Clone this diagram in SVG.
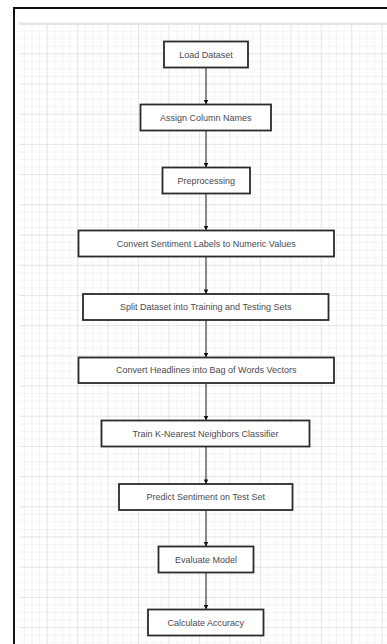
<svg xmlns="http://www.w3.org/2000/svg" width="387" height="644" viewBox="0 0 387 644">
  <style>
    .box { fill: #ffffff; stroke: #2b2b2b; stroke-width: 1.8; }
    .lbl { font-family: "Liberation Sans", Arial, sans-serif; font-size: 9px; fill: #4a4a52; text-anchor: middle; }
    .edge { stroke: #5a5a5a; stroke-width: 1.4; fill: none; marker-end: url(#arrow); }
  </style>
  <defs>
    <marker id="arrow" viewBox="0 0 10 10" refX="10" refY="5" markerUnits="userSpaceOnUse" markerWidth="5.5" markerHeight="4.5" orient="auto">
      <path d="M0,0 L10,5 L0,10 Z" fill="#111111"/>
    </marker>
    <pattern id="minor" patternUnits="userSpaceOnUse" x="17.25" y="24.1" width="7.6125" height="7.55">
      <path d="M7.6125,0 V7.55 M0,7.55 H7.6125" stroke="#f1f1f1" stroke-width="1.5" fill="none"/>
    </pattern>
    <pattern id="major" patternUnits="userSpaceOnUse" x="17.25" y="24.1" width="30.45" height="30.2">
      <path d="M30.45,0 V30.2 M0,30.2 H30.45" stroke="#d8d8d8" stroke-width="1" fill="none"/>
    </pattern>
  </defs>

  <rect x="0" y="0" width="387" height="644" fill="#ffffff"/>
  <g id="grid">
    <rect x="19" y="23" width="368" height="621" fill="url(#minor)"/>
    <rect x="19" y="23" width="368" height="621" fill="url(#major)"/>
    <rect x="19" y="22.5" width="368" height="2.5" fill="#e6e6e6"/>
  </g>
  <g id="frame">
    <path d="M14,644 V8 H387" stroke="#111111" stroke-width="2" fill="none"/>
  </g>

  <g id="connectors">
    <line class="edge" x1="206" y1="67.5" x2="206" y2="104.5"/>
    <line class="edge" x1="206" y1="130.5" x2="206" y2="167.5"/>
    <line class="edge" x1="206" y1="193.5" x2="206" y2="230.5"/>
    <line class="edge" x1="206" y1="256.5" x2="206" y2="294"/>
    <line class="edge" x1="206" y1="320" x2="206" y2="357.5"/>
    <line class="edge" x1="206" y1="383" x2="206" y2="420.5"/>
    <line class="edge" x1="206" y1="446.5" x2="206" y2="484"/>
    <line class="edge" x1="206" y1="510" x2="206" y2="546.5"/>
    <line class="edge" x1="206" y1="572.5" x2="206" y2="609.5"/>
  </g>

  <g id="n1">
    <rect class="box" x="164" y="41.5" width="84" height="26"/>
    <text class="lbl" x="206" y="57.5">Load Dataset</text>
  </g>
  <g id="n2">
    <rect class="box" x="140.5" y="104.5" width="130.5" height="26"/>
    <text class="lbl" x="205.75" y="120.5">Assign Column Names</text>
  </g>
  <g id="n3">
    <rect class="box" x="162.5" y="167.5" width="87.5" height="26"/>
    <text class="lbl" x="206.25" y="183.5">Preprocessing</text>
  </g>
  <g id="n4">
    <rect class="box" x="78.5" y="230.5" width="255.5" height="26"/>
    <text class="lbl" x="206.25" y="246.5">Convert Sentiment Labels to Numeric Values</text>
  </g>
  <g id="n5">
    <rect class="box" x="83" y="294" width="245.5" height="26"/>
    <text class="lbl" x="205.75" y="310">Split Dataset into Training and Testing Sets</text>
  </g>
  <g id="n6">
    <rect class="box" x="78.5" y="357.5" width="255.5" height="25.5"/>
    <text class="lbl" x="206.25" y="373.3">Convert Headlines into Bag of Words Vectors</text>
  </g>
  <g id="n7">
    <rect class="box" x="101.5" y="420.5" width="208" height="26"/>
    <text class="lbl" x="205.5" y="436.5">Train K-Nearest Neighbors Classifier</text>
  </g>
  <g id="n8">
    <rect class="box" x="119" y="484" width="173.5" height="26"/>
    <text class="lbl" x="205.75" y="500">Predict Sentiment on Test Set</text>
  </g>
  <g id="n9">
    <rect class="box" x="158.5" y="546.5" width="95" height="26"/>
    <text class="lbl" x="206" y="562.5">Evaluate Model</text>
  </g>
  <g id="n10">
    <rect class="box" x="148" y="609.5" width="115.5" height="26"/>
    <text class="lbl" x="205.75" y="625.5">Calculate Accuracy</text>
  </g>
</svg>
